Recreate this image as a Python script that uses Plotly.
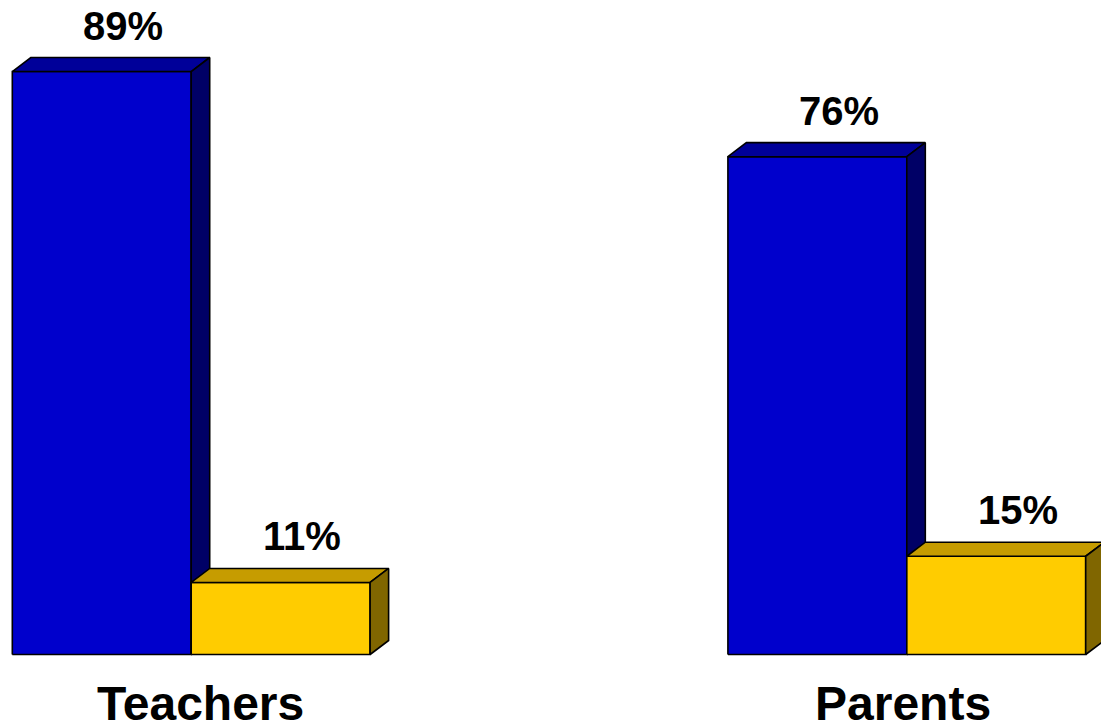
import plotly.graph_objects as go

categories = ["Teachers", "Parents"]
series_a = [89, 76]   # blue
series_b = [11, 15]   # yellow
value_labels_a = ["89%", "76%"]
value_labels_b = ["11%", "15%"]

# style constants
group_start = [0, 4]
DX = 0.1034   # depth in x units
DY = 2.14     # depth in y units
blue = dict(front="#0000CC", top="#000099", side="#000066")
yellow = dict(front="#FFCC00", top="#C69C00", side="#806600")

fig = go.Figure()


def faces(lefts, values):
    front_x, front_y, top_x, top_y, side_x, side_y = [], [], [], [], [], []
    for l, v in zip(lefts, values):
        r = l + 1
        front_x += [l, r, r, l, l, None]
        front_y += [0, 0, v, v, 0, None]
        top_x += [l, r, r + DX, l + DX, l, None]
        top_y += [v, v, v + DY, v + DY, v, None]
        side_x += [r, r + DX, r + DX, r, r, None]
        side_y += [0, DY, v + DY, v, 0, None]
    return (front_x, front_y), (top_x, top_y), (side_x, side_y)


def add_series(lefts, values, colors):
    f, t, s = faces(lefts, values)
    for (xs, ys), c in ((f, colors["front"]), (t, colors["top"]), (s, colors["side"])):
        fig.add_trace(go.Scatter(
            x=xs, y=ys, mode="lines", fill="toself", fillcolor=c,
            line=dict(color="black", width=1.6), hoverinfo="skip",
            showlegend=False))


lefts_a = [g for g in group_start]
lefts_b = [g + 1 for g in group_start]
add_series(lefts_a, series_a, blue)
add_series(lefts_b, series_b, yellow)

label_font = dict(family="Liberation Sans, Arial", size=40, color="black", weight="bold")
for l, v, t in zip(lefts_a + lefts_b, series_a + series_b, value_labels_a + value_labels_b):
    fig.add_annotation(x=l + 0.5 + DX, y=v + DY, text=t, showarrow=False,
                       yanchor="bottom", xanchor="center", yshift=8, xshift=3,
                       font=label_font)

cat_font = dict(family="Liberation Sans, Arial", size=48, color="black", weight="bold")
for g, c, xs in zip(group_start, categories, [9, -4]):
    fig.add_annotation(x=g + 1, y=0, text=c, showarrow=False, yanchor="top",
                       xanchor="center", yshift=-20, xshift=xs, font=cat_font)

fig.update_layout(
    width=1101, height=728,
    margin=dict(l=0, r=0, t=0, b=0),
    paper_bgcolor="white", plot_bgcolor="white",
    xaxis=dict(range=[-0.0688, 6.0855], visible=False, fixedrange=True),
    yaxis=dict(range=[-11.22, 99.92], visible=False, fixedrange=True),
    showlegend=False,
)

fig.write_html("out.html", config={"displayModeBar": False},
               post_script="document.body.style.margin='0';document.body.style.overflow='hidden';")
